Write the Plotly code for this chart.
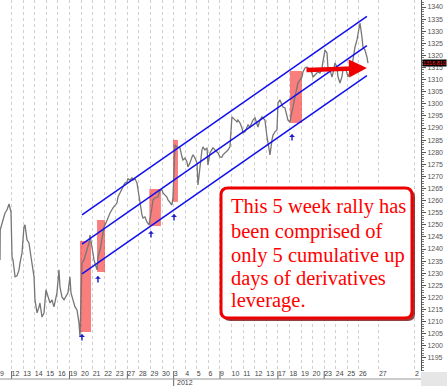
import plotly.graph_objects as go

# ---------------- data ----------------
day_labels = ["9", "12", "13", "14", "15", "16", "19", "20", "21", "22", "23",
              "27", "28", "29", "30", "3", "4", "5", "6", "9", "10", "11", "12", "13",
              "17", "18", "19", "20", "23", "24", "25", "26", "27", "2"]
day_pos = list(range(32)) + [32.73, 35.84]
week_breaks = [1, 6, 11, 15, 19, 24, 28]
year_label = "2012"
year_pos = 15
price_ticks = [1195, 1200, 1205, 1210, 1215, 1220, 1225, 1230, 1235, 1240, 1245, 1250, 1255,
               1260, 1265, 1270, 1275, 1280, 1285, 1290, 1295, 1300, 1305, 1310, 1315, 1320,
               1325, 1330, 1335, 1340]

# intraday price path (x in trading-day units, y = price)
price_x = [0, 0.02, 0.26, 0.43, 0.60, 0.78, 0.95, 1.04, 1.12, 1.30, 1.47, 1.64, 1.73, 1.90, 2.07, 2.16,
           2.33, 2.50, 2.68, 2.76, 2.94, 3.02, 3.20, 3.37, 3.45, 3.63, 3.80, 3.97, 4.15, 4.32, 4.49,
           4.66, 4.92, 5.09, 5.18, 5.35, 5.53, 5.70, 5.87, 6.04, 6.13, 6.30, 6.48, 6.65, 6.74, 6.82,
           6.91, 6.99, 7.08, 7.25, 7.43, 7.60, 7.69, 7.77, 7.94, 8.12, 8.38, 8.46, 8.64, 8.81, 8.98,
           9.15, 9.33, 9.50, 9.76, 9.93, 10.10, 10.19, 10.36, 10.54, 10.62, 10.79, 10.97, 11.05,
           11.23, 11.40, 11.49, 11.66, 11.83, 11.92, 12.09, 12.26, 12.35, 12.52, 12.69, 12.87,
           13.13, 13.21, 13.39, 13.64, 13.82, 13.99, 14.08, 14.25, 14.42, 14.51, 14.85, 14.94,
           15.11, 15.28, 15.54, 15.72, 15.80, 15.98, 16.15, 16.23, 16.41, 16.58, 16.67, 16.84,
           17.01, 17.10, 17.27, 17.44, 17.53, 17.70, 17.88, 17.96, 18.13, 18.31, 18.39, 18.57,
           18.74, 18.83, 19.00, 19.17, 19.26, 19.43, 19.60, 19.69, 19.86, 20.03, 20.12, 20.29,
           20.47, 20.55, 20.73, 20.90, 20.98, 21.16, 21.33, 21.42, 21.59, 21.76, 21.85, 22.02,
           22.19, 22.28, 22.45, 22.63, 22.71, 22.88, 23.06, 23.14, 23.32, 23.49, 23.58, 23.75,
           23.92, 24.01, 24.18, 24.35, 24.44, 24.61, 24.78, 24.87, 25.04, 25.22, 25.47, 25.73,
           26.08, 26.17, 26.34, 26.51, 26.60, 26.77, 26.94, 27.03, 27.20, 27.37, 27.46, 27.63,
           27.81, 27.89, 28.07, 28.24, 28.32, 28.50, 28.67, 28.76, 28.93, 29.10, 29.19, 29.36,
           29.53, 29.62, 29.79, 29.97, 30.05, 30.22, 30.40, 30.48, 30.66, 30.83, 30.92, 31.09,
           31.26, 31.35, 31.52, 31.69, 31.78]
price_y = [1235.5, 1247.9, 1252.0, 1254.9, 1256.1, 1258.6, 1255.3, 1236.7, 1235.5, 1228.5, 1228.9,
           1231.4, 1234.3, 1238.4, 1249.1, 1250.0, 1243.8, 1242.5, 1236.7, 1234.3, 1228.5, 1219.0,
           1213.6, 1216.1, 1217.7, 1211.9, 1213.6, 1223.1, 1220.2, 1217.7, 1219.0, 1216.1, 1221.9,
           1231.4, 1224.3, 1220.2, 1219.0, 1220.2, 1221.9, 1228.5, 1221.9, 1219.0, 1216.1, 1214.8,
           1211.9, 1209.5, 1203.7, 1219.0, 1234.3, 1235.5, 1238.4, 1240.9, 1242.5, 1245.8, 1240.9,
           1235.5, 1231.4, 1236.7, 1239.6, 1245.0, 1249.1, 1250.8, 1253.3, 1254.9, 1257.0, 1258.2,
           1259.0, 1261.5, 1263.2, 1264.4, 1265.6, 1267.3, 1267.7, 1269.0, 1268.5, 1269.4, 1268.5,
           1269.0, 1267.3, 1264.4, 1259.0, 1254.1, 1252.8, 1253.3, 1251.2, 1250.0, 1257.4, 1260.3,
           1261.1, 1261.5, 1264.4, 1264.4, 1263.2, 1262.3, 1261.5, 1260.3, 1258.2, 1261.5, 1283.0,
           1282.2, 1281.8, 1278.0, 1276.8, 1277.6, 1276.0, 1273.9, 1275.6, 1278.0, 1278.9, 1277.6,
           1275.6, 1266.5, 1273.9, 1280.9, 1282.2, 1280.9, 1281.8, 1274.7, 1279.7, 1280.9, 1281.8,
           1280.9, 1280.1, 1279.7, 1278.0, 1278.0, 1278.9, 1279.7, 1280.1, 1280.9, 1282.2, 1294.6,
           1294.2, 1293.3, 1292.5, 1293.3, 1292.1, 1290.0, 1288.0, 1288.4, 1290.0, 1291.3, 1290.4,
           1292.5, 1293.3, 1294.2, 1292.1, 1290.4, 1293.3, 1294.6, 1294.2, 1293.3, 1286.3, 1283.8,
           1278.9, 1285.1, 1287.1, 1288.4, 1289.2, 1300.4, 1301.6, 1299.5, 1298.7, 1298.3, 1294.2,
           1293.3, 1292.5, 1297.5, 1302.8, 1308.6, 1311.1, 1313.2, 1314.8, 1315.2, 1314.8, 1314.0,
           1312.7, 1311.1, 1311.9, 1312.7, 1313.2, 1312.7, 1314.8, 1317.3, 1322.2, 1321.0, 1315.2,
           1314.0, 1311.1, 1312.7, 1316.9, 1315.2, 1311.1, 1308.6, 1311.1, 1314.0, 1315.2, 1312.7,
           1311.1, 1313.2, 1315.2, 1318.1, 1323.5, 1326.4, 1329.3, 1333.4, 1327.6, 1323.5, 1322.2,
           1319.4, 1316.8]

last_price = 1316.81
last_price_text = "1316.810"

# trend channel (start / end)
channel_x = [7.08, 31.69]
channel_upper = [1254.1, 1336.1]
channel_middle = [1242.0, 1324.0]
channel_lower = [1229.7, 1311.7]

# highlighted "up days" (x0, x1, y0, y1)
box_x0 = [6.91, 8.38, 12.90, 14.94, 25.04]
box_x1 = [7.86, 9.07, 13.90, 15.37, 26.08]
box_y0 = [1205.7, 1230.5, 1249.5, 1259.5, 1292.1]
box_y1 = [1243.3, 1252.0, 1264.8, 1285.1, 1313.6]

# small blue marker arrows
marker_x = [7.08, 8.46, 13.04, 15.03, 25.22]
marker_y = [1204.9, 1228.9, 1247.5, 1254.5, 1287.5]

# red sideways arrow
red_arrow_x = [26.34, 31.69]
red_arrow_y = [1314.0, 1314.8]

note_lines = ["This 5 week rally has", "been comprised of", "only 5 cumulative up",
              "days of derivatives", "leverage."]

# ---------------- figure ----------------
W, H = 447, 386
ML, MR, MT, MB = 0, 26, 0, 15
PW, PH = W - ML - MR, H - MT - MB

def px2paper_x(px):
    return (px - ML) / PW

def py2paper_y(py):
    return 1 - (py - MT) / PH

fig = go.Figure()

fig.add_trace(go.Scatter(x=price_x, y=price_y, mode="lines",
                         line=dict(color="#767676", width=1.3), hoverinfo="skip"))
for ys in (channel_upper, channel_middle, channel_lower):
    fig.add_trace(go.Scatter(x=channel_x, y=ys, mode="lines",
                             line=dict(color="#1010ee", width=1.5), hoverinfo="skip"))

shapes = []
for a, b, c, d in zip(box_x0, box_x1, box_y0, box_y1):
    shapes.append(dict(type="rect", xref="x", yref="y", x0=a, x1=b, y0=c, y1=d,
                       fillcolor="rgba(245,40,40,0.6)", line=dict(width=0), layer="between"))

# week separators in the date strip
for wb in week_breaks:
    y_end = py2paper_y(386) if wb == year_pos else py2paper_y(379)
    shapes.append(dict(type="line", xref="x", yref="paper", x0=wb, x1=wb, y0=0, y1=y_end,
                       line=dict(color="#666666", width=1)))
# strip bottom border
shapes.append(dict(type="line", xref="paper", yref="paper", x0=0, x1=1,
                   y0=py2paper_y(379), y1=py2paper_y(379), line=dict(color="#999999", width=1)))
# grey corner
shapes.append(dict(type="rect", xref="paper", yref="paper", x0=1.0, x1=W / PW,
                   y0=py2paper_y(386), y1=py2paper_y(372), fillcolor="#e6e6e6",
                   line=dict(width=0), layer="below"))

# rounded note box
def rounded_path(l, t, r, b, rad):
    x0, x1 = px2paper_x(l), px2paper_x(r)
    y0, y1 = py2paper_y(t), py2paper_y(b)
    rx, ry = rad / PW, rad / PH
    return (f"M {x0+rx},{y0} L {x1-rx},{y0} Q {x1},{y0} {x1},{y0-ry} "
            f"L {x1},{y1+ry} Q {x1},{y1} {x1-rx},{y1} L {x0+rx},{y1} "
            f"Q {x0},{y1} {x0},{y1+ry} L {x0},{y0-ry} Q {x0},{y0} {x0+rx},{y0} Z")

shapes.append(dict(type="path", xref="paper", yref="paper",
                   path=rounded_path(223, 190, 415, 321, 7),
                   fillcolor="rgba(110,0,0,0.75)", line=dict(width=0)))
shapes.append(dict(type="path", xref="paper", yref="paper",
                   path=rounded_path(221, 188, 412, 318, 7),
                   fillcolor="white", line=dict(color="#ee0000", width=3)))

annotations = []
for mx, my in zip(marker_x, marker_y):
    annotations.append(dict(x=mx, y=my, xref="x", yref="y", ax=0, ay=8, text="",
                            showarrow=True, arrowhead=1, arrowsize=0.7, arrowwidth=1.4,
                            arrowcolor="#1a1acc"))
annotations.append(dict(x=red_arrow_x[1], y=red_arrow_y[1], ax=red_arrow_x[0], ay=red_arrow_y[0],
                        xref="x", yref="y", axref="x", ayref="y", text="", showarrow=True,
                        arrowhead=2, arrowsize=0.8, arrowwidth=4.5, arrowcolor="#ee0000"))
line_centers = [207, 231, 255, 278, 300]
for txt, cy in zip(note_lines, line_centers):
    annotations.append(dict(x=px2paper_x(229), y=py2paper_y(cy), xref="paper", yref="paper",
                            xanchor="left", yanchor="middle", text=txt, showarrow=False,
                            font=dict(family="Liberation Serif", size=20.5, color="#ff0000")))
annotations.append(dict(x=year_pos, y=py2paper_y(383), xref="x", yref="paper",
                        xanchor="left", yanchor="middle", text=year_label, showarrow=False,
                        xshift=1, font=dict(family="Liberation Sans", size=7, color="#444444")))
annotations.append(dict(x=px2paper_x(422.5), y=last_price, xref="paper", yref="y",
                        xanchor="left", yanchor="middle", text=last_price_text, showarrow=False,
                        bgcolor="black", borderpad=0,
                        font=dict(family="Liberation Sans", size=5.5, color="#ff2020")))

fig.update_layout(
    width=W, height=H, margin=dict(l=ML, r=MR, t=MT, b=MB, autoexpand=False),
    paper_bgcolor="white", plot_bgcolor="white", showlegend=False,
    shapes=shapes, annotations=annotations,
    xaxis=dict(range=[0, 36.36], tickmode="array", tickvals=day_pos, ticktext=day_labels,
               ticklabelposition="outside right", ticks="", showgrid=True, automargin=False,
               tickangle=0, ticklabeloverflow="allow", ticklabelstandoff=-3,
               gridcolor="#cfcfcf", griddash="dot", gridwidth=1, zeroline=False,
               showline=False, tickfont=dict(family="Liberation Sans", size=7, color="#444444"),
               fixedrange=True),
    yaxis=dict(range=[1189.6, 1342.9], side="right", tickmode="array", tickvals=price_ticks,
               ticks="outside",
               ticklen=4, tickcolor="#555555", showgrid=False, zeroline=False, automargin=False,
               showline=True, linecolor="#555555", linewidth=1,
               minor=dict(dtick=1, tick0=1190, ticks="outside", ticklen=2, tickcolor="#777777"),
               tickfont=dict(family="Liberation Sans", size=7, color="#555555"),
               fixedrange=True),
)

fig.write_html("out.html", config={"displayModeBar": False},
               post_script="document.body.style.margin='0';document.body.style.overflow='hidden';")
